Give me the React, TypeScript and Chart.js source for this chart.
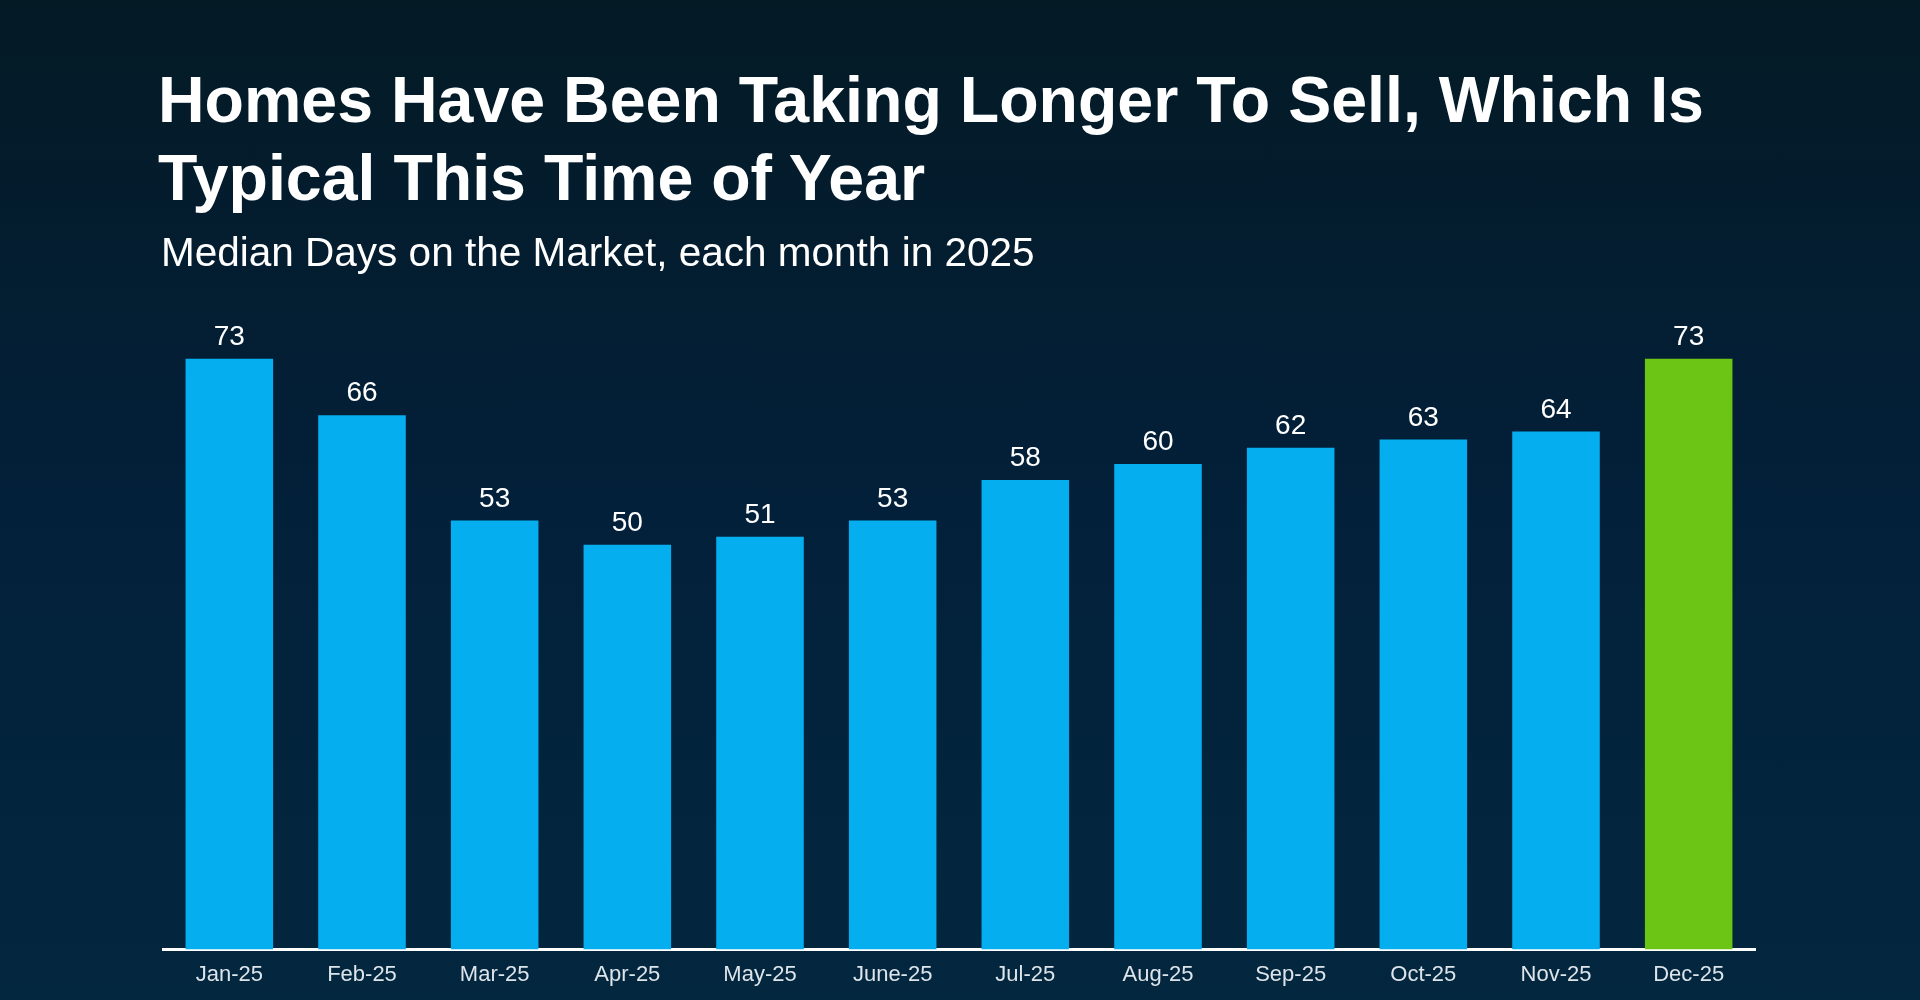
import React, { useEffect, useRef } from "react";
import { Chart, registerables } from "chart.js";

Chart.register(...registerables);

const TITLE_LINES = ["Homes Have Been Taking Longer To Sell, Which Is", "Typical This Time of Year"];
const SUBTITLE = "Median Days on the Market, each month in 2025";
const MONTHS = ["Jan-25", "Feb-25", "Mar-25", "Apr-25", "May-25", "June-25", "Jul-25", "Aug-25", "Sep-25", "Oct-25", "Nov-25", "Dec-25"];
const DAYS = [73, 66, 53, 50, 51, 53, 58, 60, 62, 63, 64, 73];
const HIGHLIGHT = [false, false, false, false, false, false, false, false, false, false, false, true];

const BLUE = "#05aeef";
const GREEN = "#6cc514";
const FONT = "'Liberation Sans', Arial, sans-serif";

const valueLabels = {
  id: "valueLabels",
  afterDatasetsDraw(chart: any) {
    const ctx = chart.ctx;
    const meta = chart.getDatasetMeta(0);
    ctx.save();
    ctx.fillStyle = "#ffffff";
    ctx.font = `28px ${FONT}`;
    ctx.textAlign = "center";
    ctx.textBaseline = "alphabetic";
    meta.data.forEach((bar: any, i: number) => {
      ctx.fillText(String(DAYS[i]), bar.x, bar.y - 14);
    });
    ctx.restore();
  },
};

export default function App() {
  const ref = useRef<HTMLCanvasElement | null>(null);

  useEffect(() => {
    if (!ref.current) return;
    const chart = new Chart(ref.current, {
      type: "bar",
      data: {
        labels: MONTHS,
        datasets: [
          {
            data: DAYS,
            backgroundColor: HIGHLIGHT.map((h) => (h ? GREEN : BLUE)),
            borderWidth: 0,
            barPercentage: 0.66,
            categoryPercentage: 1,
          },
        ],
      },
      options: {
        animation: false,
        responsive: false,
        maintainAspectRatio: false,
        layout: { padding: { left: 163, right: 165, top: 302, bottom: 0 } },
        plugins: {
          legend: { display: false },
          tooltip: { enabled: false },
          title: { display: false },
        },
        scales: {
          x: {
            grid: { display: false, drawTicks: false },
            border: { display: true, color: "#ffffff", width: 3 },
            ticks: {
              color: "#dde4ea",
              font: { family: FONT, size: 22 },
              padding: 12,
            },
          },
          y: {
            display: false,
            min: 0,
            max: 80,
            grid: { display: false },
          },
        },
      },
      plugins: [valueLabels],
    });
    return () => chart.destroy();
  }, []);

  return (
    <div
      style={{
        position: "fixed",
        left: 0,
        top: 0,
        width: 1920,
        height: 1000,
        overflow: "hidden",
        background: "linear-gradient(180deg, #041a25 0%, #03203a 50%, #03273f 100%)",
        fontFamily: FONT,
      }}
    >
      <canvas ref={ref} width={1920} height={1000} style={{ position: "absolute", left: 0, top: 0, width: 1920, height: 1000 }} />
      <div
        style={{
          position: "absolute",
          left: 158,
          top: 61,
          color: "#ffffff",
          fontWeight: 700,
          fontSize: 64.5,
          lineHeight: "78px",
          whiteSpace: "nowrap",
        }}
      >
        {TITLE_LINES.map((l) => (
          <div key={l}>{l}</div>
        ))}
      </div>
      <div
        style={{
          position: "absolute",
          left: 161,
          top: 229,
          color: "#ffffff",
          fontSize: 40.5,
          lineHeight: "46px",
          whiteSpace: "nowrap",
        }}
      >
        {SUBTITLE}
      </div>
    </div>
  );
}
